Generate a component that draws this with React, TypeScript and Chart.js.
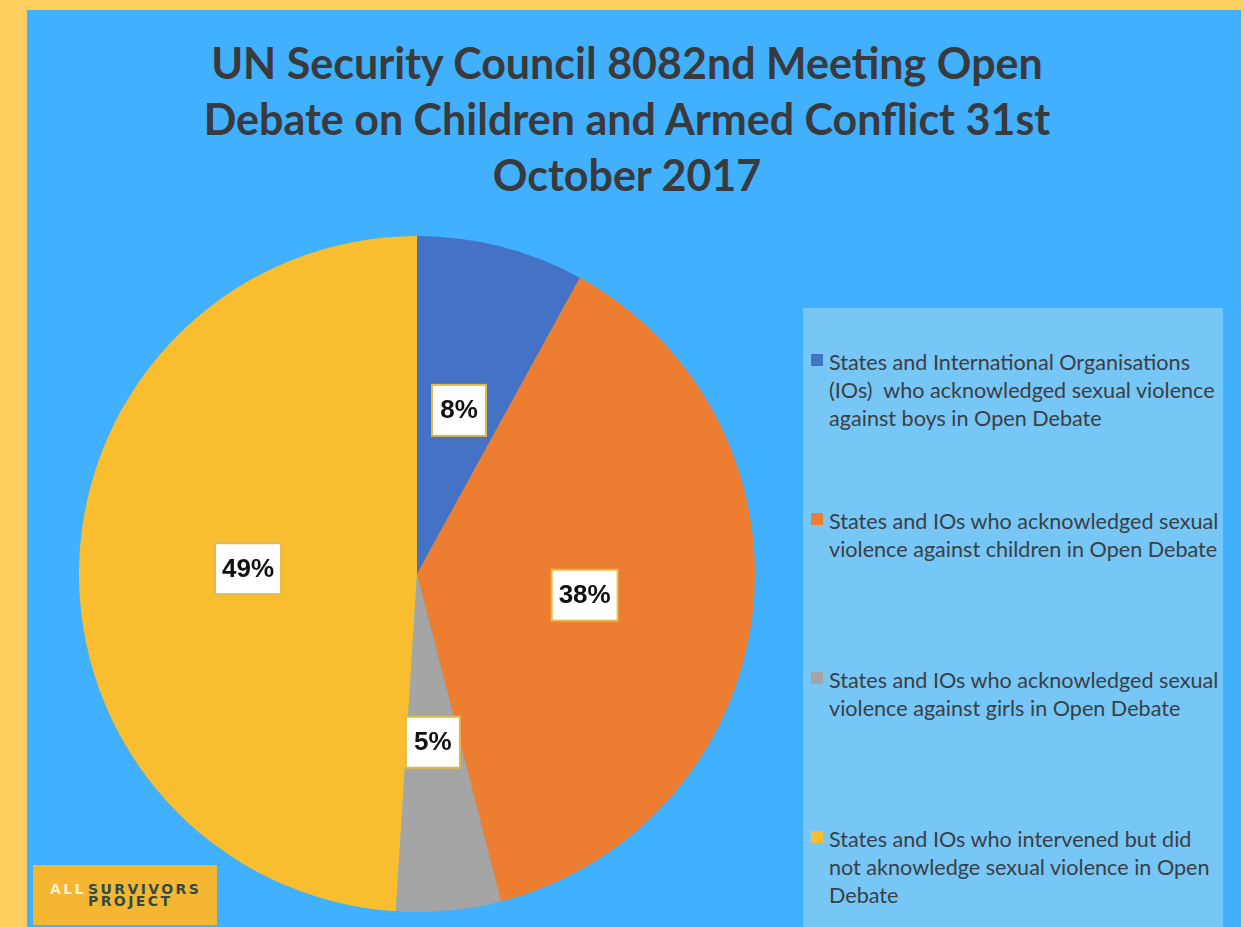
import React, { useEffect, useRef } from "react";
import { Chart, registerables } from "chart.js";

Chart.register(...registerables);

const titleLines = [
  "UN Security Council 8082nd Meeting Open",
  "Debate on Children and Armed Conflict 31st",
  "October 2017",
];

const categories = [
  ["States and International Organisations", "(IOs)  who acknowledged sexual violence", "against boys in Open Debate"],
  ["States and IOs who acknowledged sexual", "violence against children in Open Debate"],
  ["States and IOs who acknowledged sexual", "violence against girls in Open Debate"],
  ["States and IOs who intervened but did", "not aknowledge sexual violence in Open", "Debate"],
];

const values = [8, 38, 5, 49];

const sliceColors = ["#4472C4", "#ED7D31", "#A5A5A5", "#F9BE2F"];

const labelPlugin = {
  id: "pctLabels",
  afterDatasetsDraw(chart: any) {
    const ctx = chart.ctx;
    const meta = chart.getDatasetMeta(0);
    const data = chart.data.datasets[0].data as number[];
    const total = data.reduce((a, b) => a + b, 0);
    ctx.save();
    ctx.font = "bold 26px 'Liberation Sans', Arial, sans-serif";
    ctx.textAlign = "center";
    ctx.textBaseline = "middle";
    meta.data.forEach((arc: any, i: number) => {
      const p = arc.tooltipPosition(false);
      const txt = Math.round((data[i] / total) * 100) + "%";
      const tw = ctx.measureText(txt).width;
      const w = Math.max(54, tw + 14);
      const h = 51;
      ctx.fillStyle = "#ffffff";
      ctx.fillRect(p.x - w / 2, p.y - h / 2, w, h);
      ctx.strokeStyle = "#E3B84A";
      ctx.lineWidth = 2;
      ctx.strokeRect(p.x - w / 2, p.y - h / 2, w, h);
      ctx.fillStyle = "#111111";
      ctx.fillText(txt, p.x, p.y + 1);
    });
    ctx.restore();
  },
};

export default function App() {
  const canvasRef = useRef<HTMLCanvasElement | null>(null);

  useEffect(() => {
    if (!canvasRef.current) return;
    const chart = new Chart(canvasRef.current, {
      type: "pie",
      data: {
        labels: categories.map((c) => c.join(" ")),
        datasets: [
          {
            data: values,
            backgroundColor: sliceColors,
            borderWidth: 0,
          },
        ],
      },
      options: {
        responsive: false,
        animation: false,
        devicePixelRatio: 1,
        layout: { padding: 0 },
        plugins: {
          legend: { display: false },
          title: { display: false },
          tooltip: { enabled: false },
        },
      },
      plugins: [labelPlugin],
    });
    return () => chart.destroy();
  }, []);

  return (
    <div
      style={{
        position: "fixed",
        left: 0,
        top: 0,
        width: 1244,
        height: 927,
        background: "#FFCF60",
        overflow: "hidden",
      }}
    >
      <div
        style={{
          position: "absolute",
          left: 27,
          top: 10,
          width: 1214,
          height: 917,
          background: "#40B0FF",
        }}
      />
      <div
        style={{
          position: "absolute",
          left: 77,
          top: 35,
          width: 1100,
          textAlign: "center",
          fontFamily: "Lato, 'Open Sans', sans-serif",
          fontWeight: 700,
          fontSize: 43,
          lineHeight: "56px",
          color: "#3A3A3C",
        }}
      >
        {titleLines.map((l, i) => (
          <div key={i}>{l}</div>
        ))}
      </div>
      <canvas
        ref={canvasRef}
        width={676}
        height={676}
        style={{ position: "absolute", left: 79, top: 236, width: 676, height: 676 }}
      />
      <div
        style={{
          position: "absolute",
          left: 803,
          top: 308,
          width: 420,
          height: 619,
          background: "#76C6F6",
        }}
      >
        {categories.map((lines, i) => (
          <div
            key={i}
            style={{ position: "absolute", left: 0, top: 40 + i * 159, width: 420 }}
          >
            <div
              style={{
                position: "absolute",
                left: 8,
                top: 6,
                width: 12,
                height: 12,
                background: sliceColors[i],
              }}
            />
            <div
              style={{
                position: "absolute",
                left: 26,
                top: 0,
                fontFamily: "Lato, 'Open Sans', sans-serif",
                fontSize: 21.6,
                lineHeight: "28px",
                color: "#3B3F45",
                whiteSpace: "pre",
              }}
            >
              {lines.map((l, j) => (
                <div key={j}>{l}</div>
              ))}
            </div>
          </div>
        ))}
      </div>
      <div
        style={{
          position: "absolute",
          left: 33,
          top: 865,
          width: 184,
          height: 60,
          background: "#F5B731",
          fontFamily: "'DejaVu Sans', sans-serif",
          fontWeight: 900,
          fontSize: 14,
          lineHeight: "12px",
          letterSpacing: 2.4,
        }}
      >
        <div style={{ position: "absolute", left: 17, top: 18, color: "#FFF3CC" }}>ALL</div>
        <div style={{ position: "absolute", left: 55, top: 18, color: "#2F4B44" }}>
          <div>SURVIVORS</div>
          <div>PROJECT</div>
        </div>
      </div>
    </div>
  );
}
